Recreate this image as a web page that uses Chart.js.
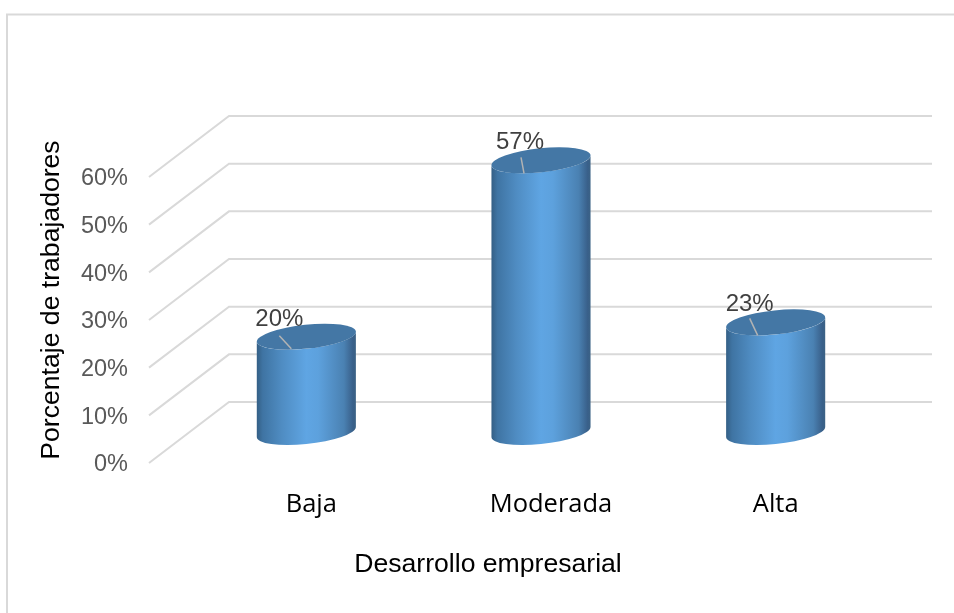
<!DOCTYPE html>
<html><head><meta charset="utf-8">
<script src="https://cdn.jsdelivr.net/npm/chart.js@4"></script>
<style>html,body{margin:0;padding:0;background:#fff}#w{width:954px;height:613px}</style>
</head><body><div id="w"><canvas id="c" width="954" height="613"></canvas></div>
<script>
const categories = ["Baja", "Moderada", "Alta"];
const percentages = [20, 57, 23];
const yTicks = [0, 10, 20, 30, 40, 50, 60];
const xTitle = "Desarrollo empresarial";
const yTitle = "Porcentaje de trabajadores";

const GRID = "#d9d9d9", DX = 80, DY = 60, RIGHT = 932;
const labelNudge = [5, 10, 0];
const labelDx = [-27, -21, -26];
const leader = [[-27, -1, -15, 12], [-20, -3, -17, 13], [-26, -4, -18, 13]];
const ROT = -6 * Math.PI / 180, A = 49.8, B = 12;

function cyl(ctx, cx, yTop, yBase) {
  const t0 = Math.atan2(-B * Math.sin(ROT), A * Math.cos(ROT));
  const hw = Math.sqrt(A*A*Math.cos(ROT)**2 + B*B*Math.sin(ROT)**2);
  const lx = A*Math.cos(t0+Math.PI)*Math.cos(ROT) - B*Math.sin(t0+Math.PI)*Math.sin(ROT);
  const ly = A*Math.cos(t0+Math.PI)*Math.sin(ROT) + B*Math.sin(t0+Math.PI)*Math.cos(ROT);
  const g = ctx.createLinearGradient(cx-hw, 0, cx+hw, 0);
  g.addColorStop(0, "#345f85"); g.addColorStop(0.06, "#3f74a3"); g.addColorStop(0.25, "#4f8cc2");
  g.addColorStop(0.5, "#5fa5e3"); g.addColorStop(0.62, "#5da1dd"); g.addColorStop(0.88, "#4a81b2");
  g.addColorStop(0.97, "#39608a"); g.addColorStop(1, "#3b6285");
  ctx.beginPath();
  ctx.ellipse(cx, yBase, A, B, ROT, t0, t0 + Math.PI);
  ctx.lineTo(cx + lx, yTop + ly);
  ctx.ellipse(cx, yTop, A, B, ROT, t0 + Math.PI, t0, true);
  ctx.closePath();
  ctx.fillStyle = g; ctx.fill();
  ctx.beginPath();
  ctx.ellipse(cx, yTop, A, B, ROT, 0, Math.PI * 2);
  ctx.fillStyle = "#4477a5"; ctx.fill();
}

const cylinders = {
  id: "cylinders",
  beforeDraw(chart) {
    const { ctx } = chart, xs = chart.scales.x, ys = chart.scales.y;
    xs.getLabelItems().forEach((it, i) => { it.options.translation[0] = xs.getPixelForTick(i) + labelNudge[i]; });
    ys.getLabelItems().forEach((it, i) => { it.options.translation[1] = ys.getPixelForTick(i) + 3; });
    ctx.save();
    ctx.strokeStyle = GRID; ctx.lineWidth = 2;
    ctx.beginPath(); ctx.moveTo(7, 613); ctx.lineTo(7, 14.5); ctx.lineTo(954, 14.5); ctx.stroke();
    ctx.restore();
  },
  beforeDatasetsDraw(chart) {
    const { ctx, scales } = chart;
    ctx.save();
    ctx.strokeStyle = GRID; ctx.lineWidth = 2; ctx.lineJoin = "miter";
    scales.y.ticks.forEach(t => {
      const y = scales.y.getPixelForValue(t.value);
      ctx.beginPath();
      ctx.moveTo(149, y + 1);
      ctx.lineTo(149 + DX, y - DY);
      ctx.lineTo(RIGHT, y - DY);
      ctx.stroke();
    });
    ctx.restore();
  },
  afterDatasetsDraw(chart) {
    const { ctx } = chart;
    const meta = chart.getDatasetMeta(0);
    ctx.save();
    meta.data.forEach((bar, i) => {
      const yTop = bar.y - DY / 2, yBase = bar.base - DY / 2;
      cyl(ctx, bar.x, yTop, yBase);
      const l = leader[i];
      ctx.strokeStyle = "#b3b3b3"; ctx.lineWidth = 1.5;
      ctx.beginPath();
      ctx.moveTo(bar.x + l[0], yTop + l[1]);
      ctx.lineTo(bar.x + l[2], yTop + l[3]);
      ctx.stroke();
      ctx.fillStyle = "#404040";
      ctx.font = "24px 'Liberation Sans'";
      ctx.textAlign = "center"; ctx.textBaseline = "alphabetic";
      ctx.fillText(percentages[i] + "%", bar.x + labelDx[i], yTop - 11);
    });
    ctx.fillStyle = "#000";
    ctx.font = "26.6px 'Liberation Sans'";
    ctx.textAlign = "center"; ctx.textBaseline = "middle";
    ctx.fillText(xTitle, 488, 565);
    ctx.translate(52, 300); ctx.rotate(-Math.PI / 2);
    ctx.fillText(yTitle, 0, 0);
    ctx.restore();
  }
};

new Chart(document.getElementById("c"), {
  type: "bar",
  data: { labels: categories, datasets: [{ data: percentages, backgroundColor: "rgba(0,0,0,0)", barThickness: 99 }] },
  plugins: [cylinders],
  options: {
    responsive: false, animation: false,
    layout: { padding: { left: 0, right: 61, top: 176, bottom: 0 } },
    plugins: { legend: { display: false }, title: { display: false }, tooltip: { enabled: false } },
    scales: {
      x: {
        afterFit(s) { s.height = 151; },
        grid: { display: false }, border: { display: false },
        ticks: { color: "#000", padding: 19, maxRotation: 0, font: { family: "'Open Sans'", size: 25.5 } }
      },
      y: {
        min: 0, max: 60,
        afterFit(s) { s.width = 189; },
        afterBuildTicks(s) { s.ticks = yTicks.map(v => ({ value: v })); },
        grid: { display: false }, border: { display: false },
        ticks: { color: "#595959", padding: 53, callback: v => v + "%", font: { family: "'Liberation Sans'", size: 23.5 } }
      }
    }
  }
});
</script></body></html>
